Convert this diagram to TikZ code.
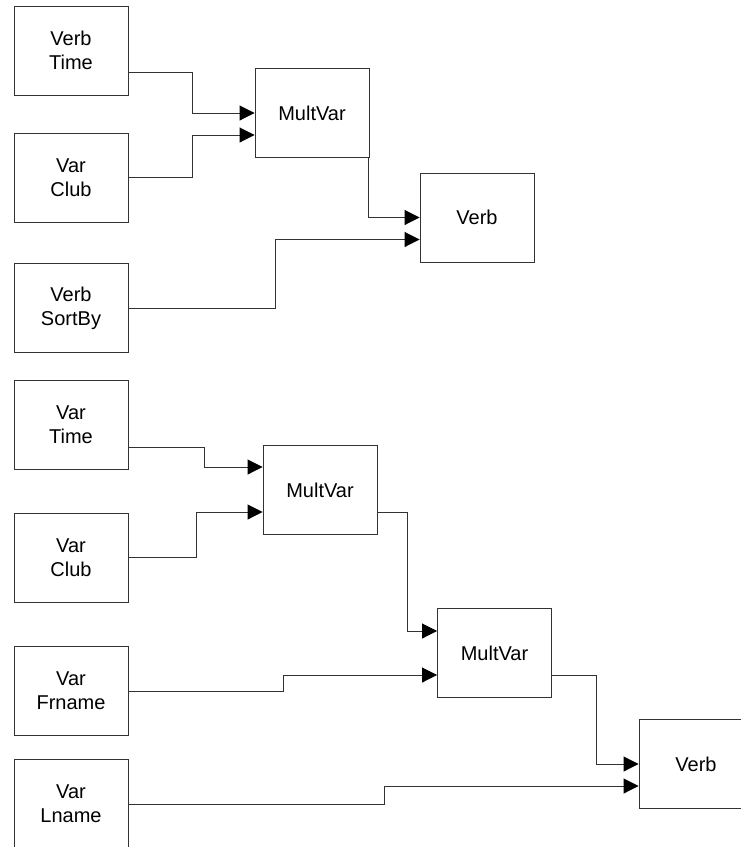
\documentclass[tikz,border=0pt]{standalone}
\usepackage{fontspec}
\setmainfont{Liberation Sans}
\usetikzlibrary{arrows.meta}

\begin{document}
\begin{tikzpicture}[x=1pt, y=-1pt,
        block/.style={draw=black!80, line width=0.9pt, minimum width=114pt, minimum height=89pt,
            inner sep=0pt, align=center, font=\fontsize{20}{24}\selectfont},
        link/.style={draw=black!80, line width=0.9pt, -{Triangle[length=15pt, width=15pt, color=black]}}]
        \useasboundingbox (0,0) rectangle (740,847);
        % first chain
        \node[block] (vtime1) at (71,50.5) {Verb\\Time};
        \node[block] (vclub1) at (71,177.5) {Var\\Club};
        \node[block] (vsort) at (71,308) {Verb\\SortBy};
        \node[block] (mult1) at (312,113) {MultVar};
        \node[block] (verb1) at (477,217.5) {Verb};
        \draw[link] ([yshift=-21.5pt]vtime1.east) -- ++(64,0) |- (mult1.west);
        \draw[link] (vclub1.east) -- ++(64,0) |- ([yshift=-22pt]mult1.west);
        \draw[link] ([xshift=-1pt]mult1.south east) |- (verb1.west);
        \draw[link] (vsort.east) -- ++(147,0) |- ([yshift=-22pt]verb1.west);
        % second chain
        \node[block] (vtime2) at (71,425) {Var\\Time};
        \node[block] (vclub2) at (71,557.5) {Var\\Club};
        \node[block] (vfirst) at (71,691) {Var\\Frname};
        \node[block] (vlast) at (71,804) {Var\\Lname};
        \node[block] (mult2) at (320,490) {MultVar};
        \node[block] (mult3) at (494.5,653) {MultVar};
        \node[block] (verb2) at (696,764) {Verb};
        \draw[link] ([yshift=-22pt]vtime2.east) -- ++(76,0) |- ([yshift=23pt]mult2.west);
        \draw[link] (vclub2.east) -- ++(68,0) |- ([yshift=-22pt]mult2.west);
        \draw[link] ([yshift=-22pt]mult2.east) -- ++(30,0) |- ([yshift=22pt]mult3.west);
        \draw[link] (vfirst.east) -- ++(155,0) |- ([yshift=-22pt]mult3.west);
        \draw[link] ([yshift=-22pt]mult3.east) -- ++(44,0) |- (verb2.west);
        \draw[link] (vlast.east) -- ++(256,0) |- ([yshift=-22pt]verb2.west);
    \end{tikzpicture}
\end{document}
